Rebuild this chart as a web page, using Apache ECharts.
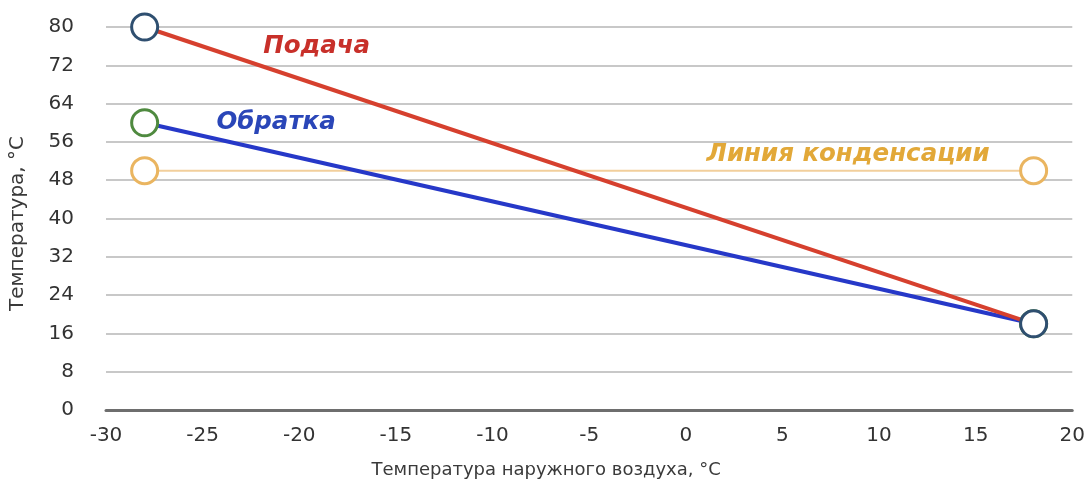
<!DOCTYPE html>
<html>
<head>
<meta charset="utf-8">
<script src="https://cdn.jsdelivr.net/npm/echarts@6/dist/echarts.min.js"></script>
<style>
  html, body { margin: 0; padding: 0; background: #fff; }
  #chart { width: 1088px; height: 484px; }
</style>
</head>
<body>
<div id="chart"></div>
<script>
// Outdoor temperature (°C) at the two ends of the heating curve
const outdoorTemps = [-28, 18];
// Supply water temperature (°C)
const supplyTemps = [80, 18];
// Return water temperature (°C)
const returnTemps = [60, 18];
// Condensation threshold (°C)
const condensationTemps = [50, 50];

const xTicks = { min: -30, max: 20, step: 5 };
const yTicks = { min: 0, max: 80, step: 8 };

const seriesNames = ['Подача', 'Обратка', 'Линия конденсации'];
const xAxisName = 'Температура наружного воздуха, °С';
const yAxisName = 'Температура, °С';

const pairs = (xs, ys) => xs.map((x, i) => [x, ys[i]]);

const FONT = '"DejaVu Sans", Verdana, sans-serif';
const ring = (color) => ({ color: '#fff', borderColor: color, borderWidth: 3 });

// Italic caption placed next to its line, anchored in chart coordinates
function caption(name, at, color) {
  return {
    type: 'scatter', silent: true, z: 10,
    symbolSize: 2, itemStyle: { color: 'rgba(0,0,0,0)', opacity: 1 },
    data: [at],
    label: {
      show: true, position: 'inside', formatter: name, color: color,
      textBorderWidth: 0, textBorderColor: 'transparent',
      fontSize: 24.5, fontStyle: 'italic', fontWeight: 'bold', fontFamily: FONT
    }
  };
}

const chart = echarts.init(document.getElementById('chart'));
chart.setOption({
  animation: false,
  backgroundColor: '#fff',
  grid: { left: 104, right: 15, top: 27, bottom: 74, containLabel: false },
  xAxis: {
    type: 'value', min: xTicks.min, max: xTicks.max, interval: xTicks.step,
    name: xAxisName, nameLocation: 'middle', nameGap: 51,
    nameTextStyle: { fontSize: 18, color: '#3a3a3a', fontFamily: FONT, padding: [0, 86, 0, 0] },
    axisLine: { show: true, lineStyle: { color: '#6e6e6e', width: 3 } },
    axisTick: { show: false },
    splitLine: { show: false },
    axisLabel: { fontSize: 20, color: '#333', margin: 16, fontFamily: FONT }
  },
  yAxis: {
    type: 'value', min: yTicks.min, max: yTicks.max, interval: yTicks.step,
    name: yAxisName, nameLocation: 'middle', nameGap: 78, nameRotate: 90,
    nameTextStyle: { fontSize: 20, color: '#3a3a3a', fontFamily: FONT, padding: [0, 10, 0, 0] },
    axisLine: { show: false },
    axisTick: { show: false },
    splitLine: { show: true, lineStyle: { color: '#c8c8c8', width: 2 } },
    axisLabel: { fontSize: 20, color: '#333', margin: 32, fontFamily: FONT }
  },
  series: [
    {
      name: seriesNames[2], type: 'line',
      data: pairs(outdoorTemps, condensationTemps),
      lineStyle: { color: '#f2cf9c', width: 2 },
      symbol: 'circle', symbolSize: 26,
      itemStyle: ring('#eab560'),
      z: 2
    },
    {
      name: seriesNames[1], type: 'line',
      data: pairs(outdoorTemps, returnTemps),
      lineStyle: { color: '#2638c8', width: 4 },
      symbol: 'circle', symbolSize: 26,
      itemStyle: ring('#4f8a3f'),
      z: 3
    },
    {
      name: seriesNames[0], type: 'line',
      data: pairs(outdoorTemps, supplyTemps),
      lineStyle: { color: '#d6402e', width: 4 },
      symbol: 'circle', symbolSize: 26,
      itemStyle: ring('#2f4f70'),
      z: 4
    },
    caption(seriesNames[0], [-19.1, 76.0], '#c8302a'),
    caption(seriesNames[1], [-21.2, 60.0], '#2a46b8'),
    caption(seriesNames[2], [8.4, 53.3], '#e2a838')
  ]
});
</script>
</body>
</html>
